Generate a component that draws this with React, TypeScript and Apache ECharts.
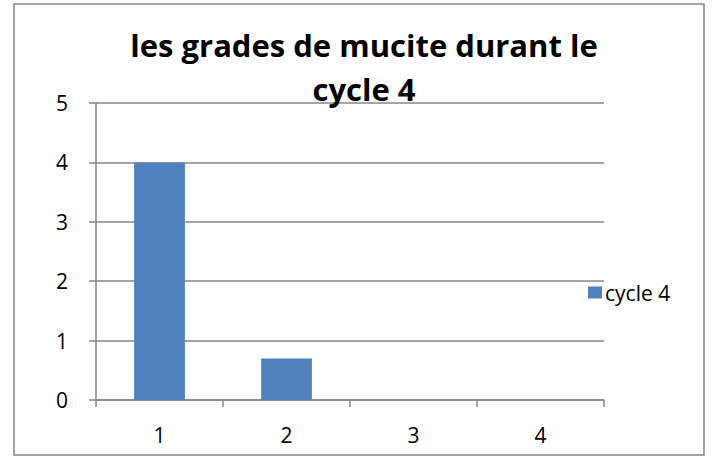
import React, { useEffect, useRef } from "react";
import * as echarts from "echarts";

const categories = ["1", "2", "3", "4"];
const seriesName = "cycle 4";
const values = [4, 0.7, 0, 0];
const titleText = "les grades de mucite durant le\ncycle 4";

export default function App() {
  const ref = useRef<HTMLDivElement>(null);
  useEffect(() => {
    document.body.style.margin = "0";
    const chart = echarts.init(ref.current!, null, { renderer: "svg" });
    const font = "'Open Sans', 'Liberation Sans', sans-serif";
    chart.setOption({
      animation: false,
      backgroundColor: "#ffffff",
      textStyle: { fontFamily: font },
      title: {
        text: titleText,
        left: 359,
        textAlign: "center",
        top: 18,
        textStyle: {
          fontFamily: font,
          fontWeight: "bold",
          fontSize: 31,
          lineHeight: 44,
          color: "#000000",
        },
      },
      graphic: [
        {
          type: "rect",
          shape: { x: 14, y: 4, width: 690, height: 451 },
          style: { fill: "none", stroke: "#868686", lineWidth: 1.5 },
          silent: true,
        },
      ],
      legend: {
        left: 583,
        top: 277,
        itemWidth: 14,
        itemHeight: 12,
        itemGap: 4,
        icon: "rect",
        textStyle: { fontFamily: font, fontSize: 21, color: "#000", padding: [0, 0, 0, -2] },
        data: [seriesName],
      },
      grid: { left: 96, right: 108, top: 103, bottom: 57, containLabel: false },
      xAxis: {
        type: "category",
        data: categories,
        axisLine: { show: true, lineStyle: { color: "#868686", width: 1.5 } },
        axisTick: { show: true, alignWithLabel: false, length: 7, lineStyle: { color: "#868686", width: 1.5 } },
        axisLabel: { color: "#000", fontSize: 21, margin: 24, fontFamily: font },
      },
      yAxis: {
        type: "value",
        min: 0,
        max: 5,
        interval: 1,
        axisLine: { show: true, lineStyle: { color: "#868686", width: 1.5 } },
        axisTick: { show: true, length: 7, lineStyle: { color: "#868686", width: 1.5 } },
        axisLabel: { color: "#000", fontSize: 21, margin: 28, fontFamily: font },
        splitLine: { show: true, lineStyle: { color: "#868686", width: 1.5 } },
      },
      series: [
        {
          name: seriesName,
          type: "bar",
          data: values,
          barWidth: "40%",
          itemStyle: { color: "#4f81bd" },
        },
      ],
    });
    return () => chart.dispose();
  }, []);
  return <div ref={ref} style={{ width: 712, height: 457, position: "absolute", left: 0, top: 0 }} />;
}
